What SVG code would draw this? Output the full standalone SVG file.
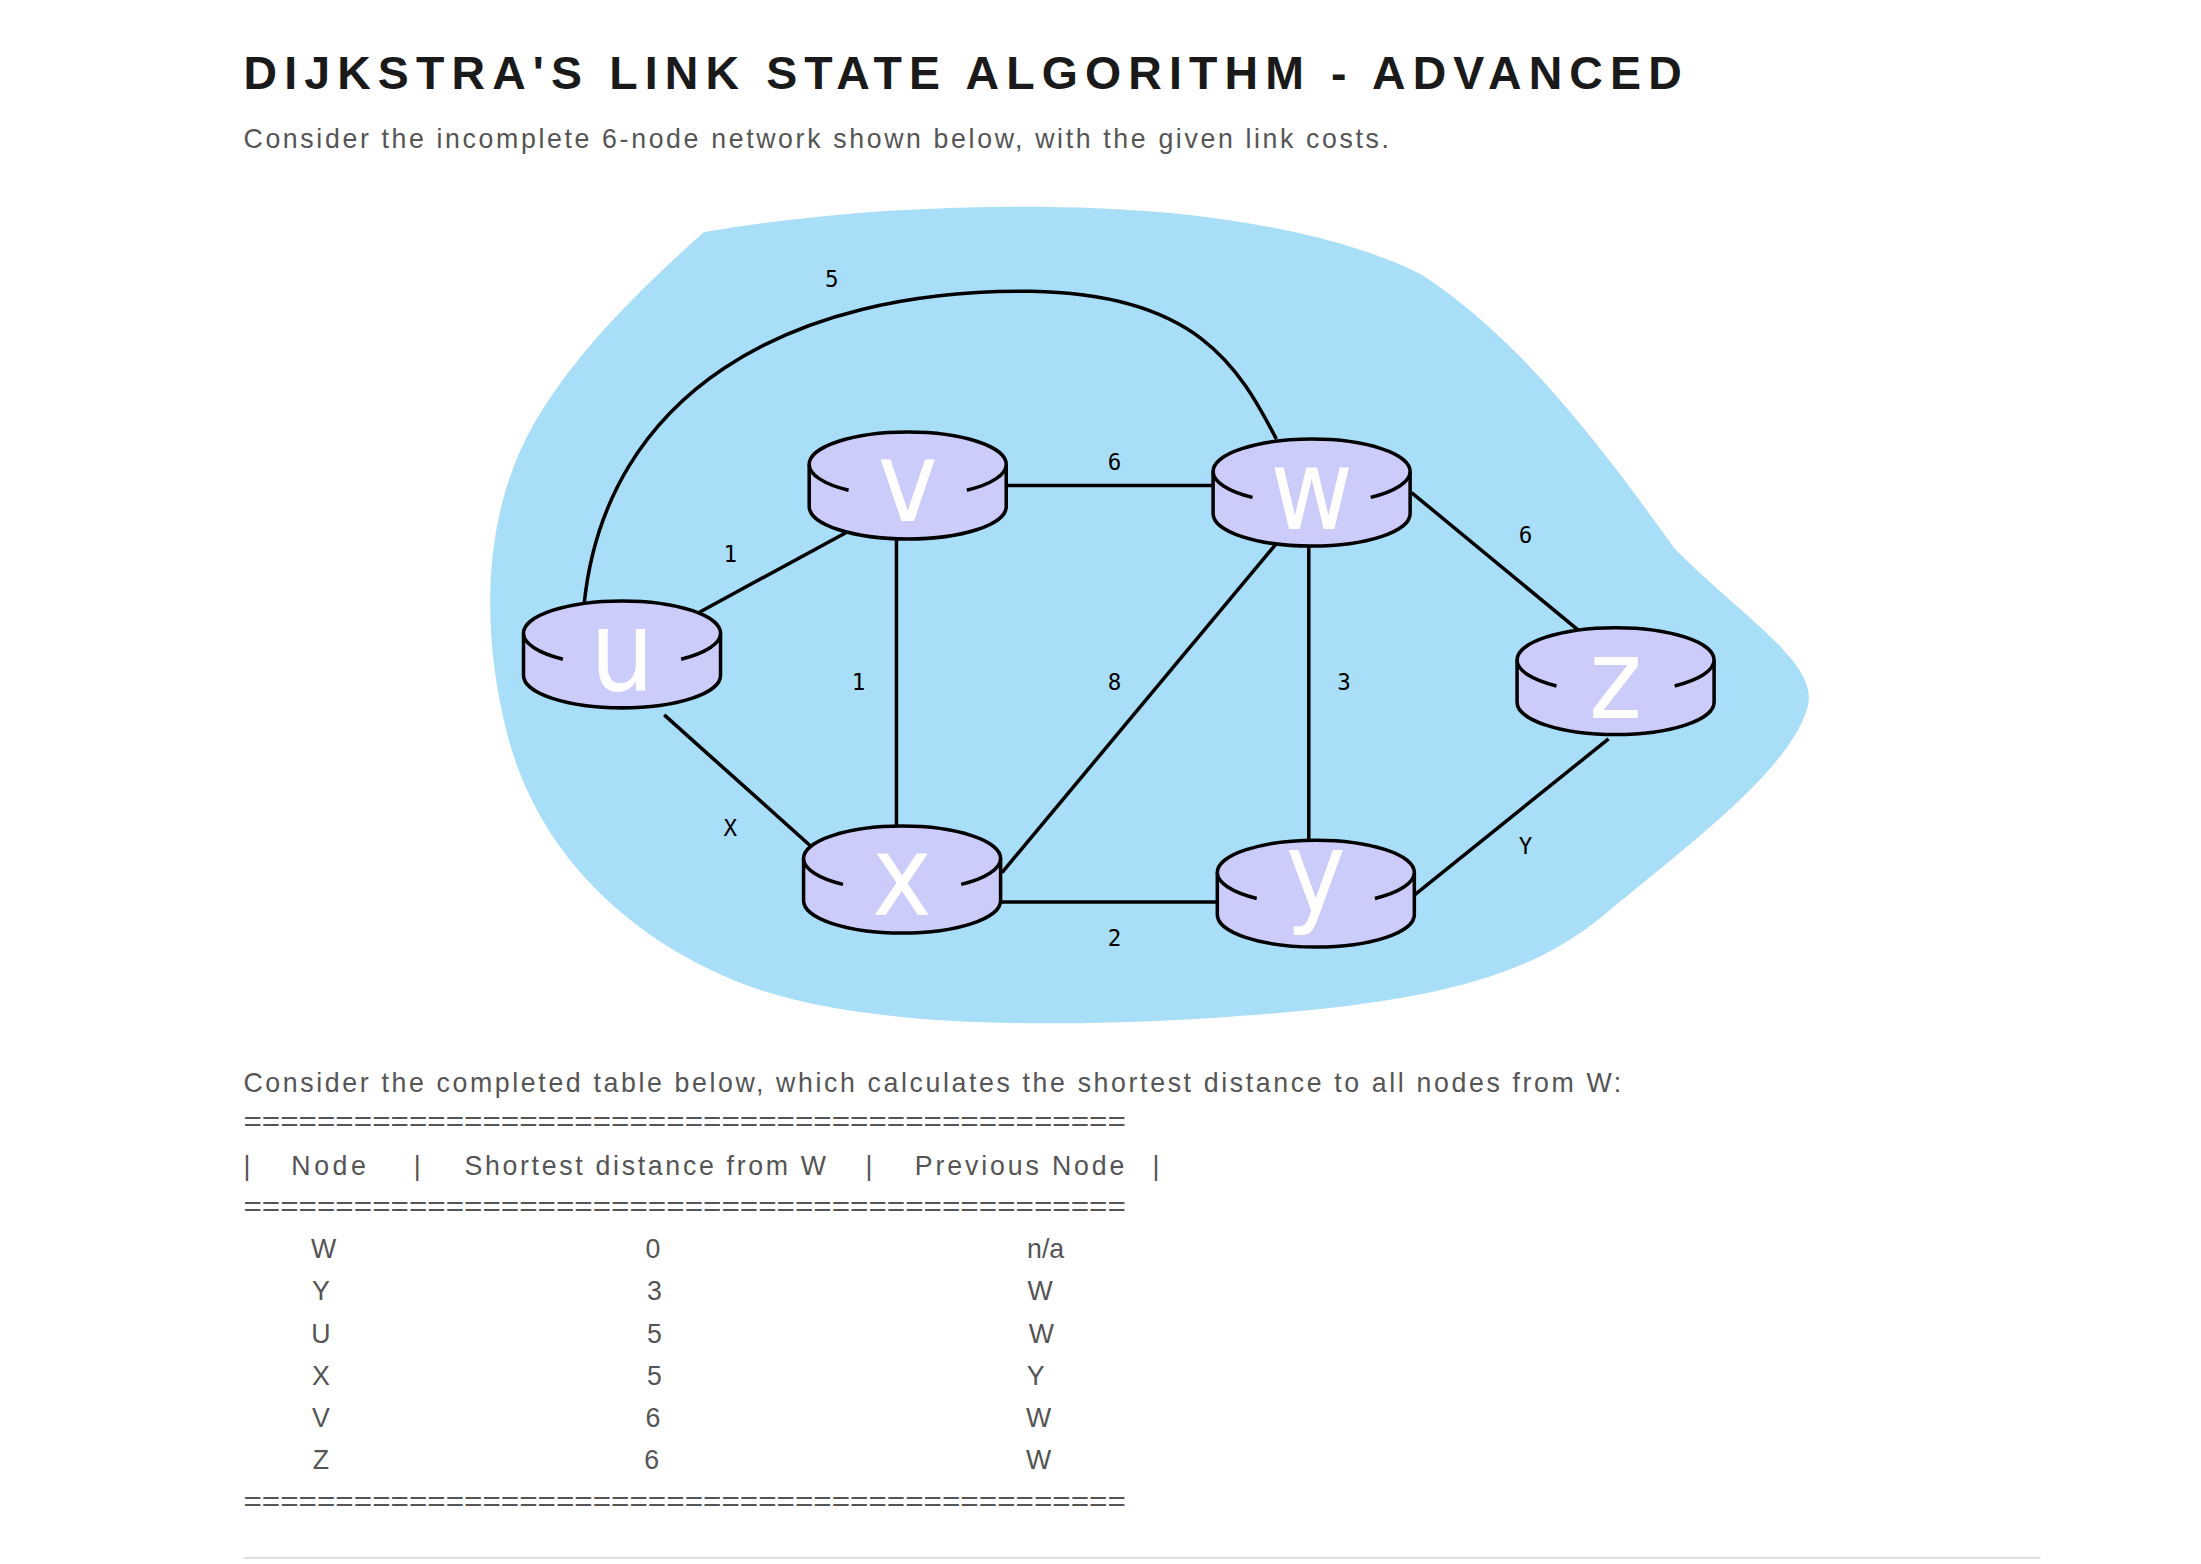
<svg xmlns="http://www.w3.org/2000/svg" width="2201" height="1564" viewBox="0 0 2201 1564">
<style>
.t{font-family:"Liberation Sans",Arial,sans-serif;fill:#555}
.h{font-family:"Liberation Sans",Arial,sans-serif;font-weight:bold;fill:#1a1a1a}
.lbl{font-family:"DejaVu Sans Mono",monospace;font-size:16px;fill:#000;text-anchor:middle}
.e{stroke:#000;stroke-width:2.5;fill:none}
.r{fill:#ccccfa;stroke:#000;stroke-width:2.5}
.n{font-family:"DejaVu Sans Condensed","DejaVu Sans",sans-serif;font-size:80px;fill:#fff;text-anchor:middle}
.c{text-anchor:middle}
</style>
<defs>
<g id="router">
<path class="r" d="M-70,0 V30 A70,23 0 0 0 70,30 V0"/>
<ellipse cx="0" cy="0" rx="70" ry="23" fill="#ccccfa"/>
<path d="M-70,0 A70,23 0 0 1 70,0 M-70,0 A70,23 0 0 0 -42,18.4 M70,0 A70,23 0 0 1 42,18.4" stroke="#000" stroke-width="2.5" fill="none"/>
</g>
</defs>
<rect width="2201" height="1564" fill="#fff"/>
<g transform="scale(1.4073)">
<text class="h" x="173" y="63" font-size="33" textLength="1022" lengthAdjust="spacing">DIJKSTRA'S LINK STATE ALGORITHM - ADVANCED</text>
<text class="t" x="173" y="105" font-size="19" textLength="814" lengthAdjust="spacing">Consider the incomplete 6-node network shown below, with the given link costs.</text>
<path fill="#a8def8" d="M500,165 C600,148 700,145 780,148 C880,152 960,170 1010,195 C1080,240 1140,320 1190,390 C1240,440 1290,470 1285,500 C1275,545 1200,600 1140,650 C1080,700 1000,715 850,724 C700,732 600,725 530,700 C440,665 380,600 360,520 C340,440 345,360 380,300 C410,250 450,210 500,165 Z"/>
<g id="connectors">
<path class="e" d="M415,430 C430,280 560,205 733,207 C850,209 880,260 907,312"/>
<line class="e" x1="497" y1="435" x2="602" y2="378"/>
<line class="e" x1="716" y1="345" x2="862" y2="345"/>
<line class="e" x1="637" y1="383" x2="637" y2="587"/>
<line class="e" x1="472" y1="508" x2="577" y2="602"/>
<line class="e" x1="908" y1="385" x2="712" y2="620"/>
<line class="e" x1="930" y1="388" x2="930" y2="597"/>
<line class="e" x1="1003" y1="350" x2="1123" y2="449"/>
<line class="e" x1="712" y1="641" x2="865" y2="641"/>
<line class="e" x1="1005" y1="636" x2="1143" y2="525"/>
<text class="lbl" x="591" y="204">5</text>
<text class="lbl" x="792" y="334">6</text>
<text class="lbl" x="519" y="399">1</text>
<text class="lbl" x="1084" y="386">6</text>
<text class="lbl" x="610" y="490">1</text>
<text class="lbl" x="792" y="490">8</text>
<text class="lbl" x="955" y="490">3</text>
<text class="lbl" x="519" y="594">X</text>
<text class="lbl" x="1084" y="607">Y</text>
<text class="lbl" x="792" y="672">2</text>
</g>
<g id="node-v"><use href="#router" x="645" y="330"/><text class="n" x="645" y="370">v</text></g>
<g id="node-w"><use href="#router" x="932" y="335"/><text class="n" x="932" y="376">w</text></g>
<g id="node-u"><use href="#router" x="442" y="450"/><text class="n" x="442" y="490">u</text></g>
<g id="node-z"><use href="#router" x="1148" y="469"/><text class="n" x="1148" y="510">z</text></g>
<g id="node-x"><use href="#router" x="641" y="610"/><text class="n" x="641" y="650">x</text></g>
<g id="node-y"><use href="#router" x="935" y="620"/><text class="n" x="935" y="648">y</text></g>
<g class="t" font-size="19">
<text x="173" y="776" textLength="979" lengthAdjust="spacing">Consider the completed table below, which calculates the shortest distance to all nodes from W:</text>
<text x="173" y="804" textLength="627" lengthAdjust="spacingAndGlyphs">================================================</text>
<text x="173" y="835">|</text><text x="207" y="835" textLength="53" lengthAdjust="spacing">Node</text><text x="294" y="835">|</text>
<text x="330" y="835" textLength="257" lengthAdjust="spacing">Shortest distance from W</text><text x="615" y="835">|</text>
<text x="650" y="835" textLength="149" lengthAdjust="spacing">Previous Node</text><text x="819" y="835">|</text>
<text x="173" y="864" textLength="627" lengthAdjust="spacingAndGlyphs">================================================</text>
<text x="173" y="1074" textLength="627" lengthAdjust="spacingAndGlyphs">================================================</text>
<text class="c" x="230" y="894">W</text><text class="c" x="464" y="894">0</text><text class="c" x="743" y="894">n/a</text>
<text class="c" x="228" y="924">Y</text><text class="c" x="465" y="924">3</text><text class="c" x="739" y="924">W</text>
<text class="c" x="228" y="954">U</text><text class="c" x="465" y="954">5</text><text class="c" x="740" y="954">W</text>
<text class="c" x="228" y="984">X</text><text class="c" x="465" y="984">5</text><text class="c" x="736" y="984">Y</text>
<text class="c" x="228" y="1014">V</text><text class="c" x="464" y="1014">6</text><text class="c" x="738" y="1014">W</text>
<text class="c" x="228" y="1044">Z</text><text class="c" x="463" y="1044">6</text><text class="c" x="738" y="1044">W</text>
</g>
<line x1="173" y1="1107" x2="1450" y2="1107" stroke="#e2e2e2" stroke-width="1.5"/>
</g>
</svg>
